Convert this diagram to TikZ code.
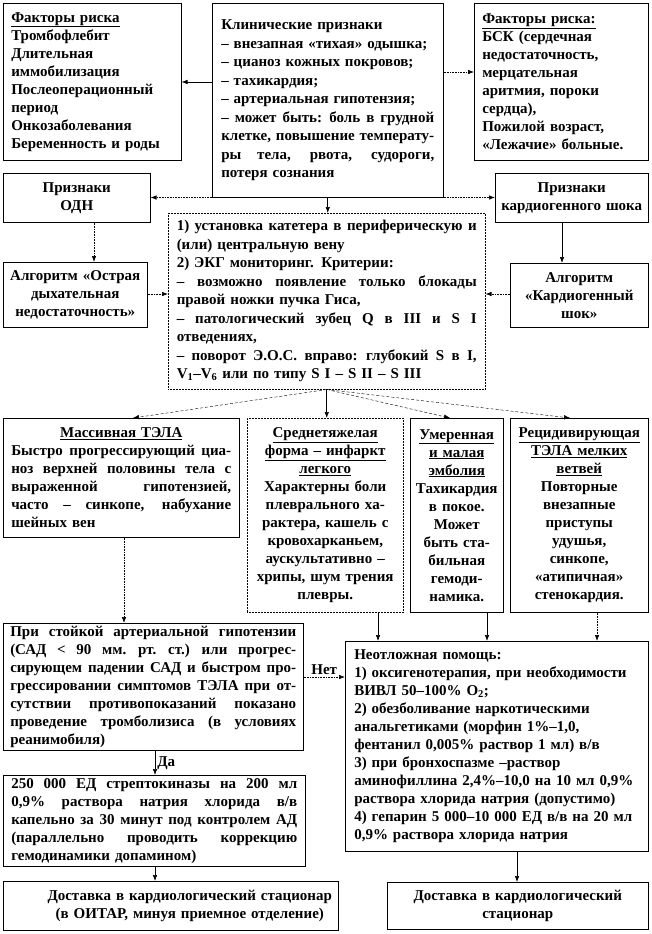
\documentclass[tikz,border=0pt]{standalone}
\usepackage{fontspec}
\setmainfont{Liberation Serif}
\usetikzlibrary{arrows.meta}
\newcommand{\J}[1]{{\spaceskip=0.25em plus 1fil\relax\xspaceskip=0.33em plus 1fil\relax\makebox[\hsize][s]{#1}}}
\newcommand{\C}[1]{\makebox[\hsize][c]{#1}}
\tikzset{
  box/.style={draw, line width=0.5pt, anchor=north west, inner ysep=0pt,
    font=\bfseries\fontsize{15}{18}\selectfont},
  dbox/.style={box, densely dotted},
  arr/.style={-{Latex[length=6pt,width=4.5pt]}, line width=0.6pt},
  dotarr/.style={arr, densely dotted},
  dasharr/.style={arr, densely dashed, line width=0.4pt},
  lbl/.style={font=\bfseries\fontsize{15}{18}\selectfont, inner sep=2pt}
}
\begin{document}
\begin{tikzpicture}[x=1pt,y=-1pt]
\useasboundingbox (0,0) rectangle (652,934);

\node[box, inner xsep=8pt, text width=162pt, minimum width=178pt, minimum height=157pt, align=left] (A) at (3,3)
 {\underline{Факторы риска}\\Тромбофлебит\\Длительная\\иммобилизация\\Послеоперационный\\период\\Онкозаболевания\\Беременность и роды};

\node[box, inner xsep=9pt, text width=213pt, minimum width=231pt, minimum height=194pt, align=left,
  font=\bfseries\fontsize{15}{18.5}\selectfont] (B) at (212,3)
 {Клинические признаки\\
  – внезапная «тихая» одышка;\\
  – цианоз кожных покровов;\\
  – тахикардия;\\
  – артериальная гипотензия;\\
  \J{– может быть: боль в грудной}\\
  \J{клетке, повышение температу-}\\
  \J{ры тела, рвота, судороги,}\\
  потеря сознания};

\node[box, inner xsep=8pt, text width=158pt, minimum width=174pt, minimum height=157pt, align=left] (C) at (474,3)
 {\underline{Факторы риска:}\\БСК (сердечная\\недостаточность,\\мерцательная\\аритмия, пороки\\сердца),\\Пожилой возраст,\\«Лежачие» больные.};

\node[box, inner xsep=4pt, text width=139pt, minimum width=147pt, minimum height=49pt, align=center] (D) at (3,173)
 {Признаки\\ОДН};

\node[box, inner xsep=4pt, text width=145pt, minimum width=153pt, minimum height=49pt, align=center] (E) at (495,173)
 {Признаки\\кардиогенного шока};

\node[box, inner xsep=4pt, text width=136pt, minimum width=144pt, minimum height=65pt, align=center] (F) at (3,262)
 {Алгоритм «Острая\\дыхательная\\недостаточность»};

\node[box, inner xsep=4pt, text width=130pt, minimum width=138pt, minimum height=64pt, align=center] (G) at (510,263)
 {Алгоритм\\«Кардиогенный\\шок»};

\node[dbox, inner xsep=8.5pt, text width=300pt, minimum width=317pt, minimum height=176pt, align=left,
  font=\bfseries\fontsize{15}{18.5}\selectfont] (H) at (168,213)
 {\J{1) установка катетера в периферическую и}\\
  (или) центральную вену\\
  2) ЭКГ мониторинг. Критерии:\\
  \J{– возможно появление только блокады}\\
  правой ножки пучка Гиса,\\
  \J{– патологический зубец Q в III и S I}\\
  отведениях,\\
  \J{– поворот Э.О.С. вправо: глубокий S в I,}\\
  V\textsubscript{1}–V\textsubscript{6} или по типу S I – S II – S III};

\node[box, inner xsep=8pt, text width=220pt, minimum width=236pt, minimum height=119pt, align=left] (I) at (3,418)
 {\C{\underline{Массивная ТЭЛА}}\\
  \J{Быстро прогрессирующий циа-}\\
  \J{ноз верхней половины тела с}\\
  \J{выраженной гипотензией,}\\
  \J{часто – синкопе, набухание}\\
  шейных вен};

\node[dbox, inner xsep=3pt, text width=150pt, minimum width=156pt, minimum height=194pt, align=center] (J) at (247,418)
 {\underline{Среднетяжелая}\\\underline{форма – инфаркт}\\\underline{легкого}\\Характерны боли\\плеврального ха-\\рактера, кашель с\\кровохарканьем,\\аускультативно –\\хрипы, шум трения\\плевры.};

\node[box, inner xsep=2pt, text width=89pt, minimum width=93pt, minimum height=194pt, align=center] (K) at (410,418)
 {\underline{Умеренная}\\\underline{и малая}\\\underline{эмболия}\\Тахикардия\\в покое.\\Может\\быть ста-\\бильная\\гемоди-\\намика.};

\node[box, inner xsep=3pt, text width=132pt, minimum width=138pt, minimum height=194pt, align=center] (L) at (510,418)
 {\underline{Рецидивирующая}\\\underline{ТЭЛА мелких}\\\underline{ветвей}\\Повторные\\внезапные\\приступы\\удушья,\\синкопе,\\«атипичная»\\стенокардия.};

\node[box, inner xsep=7pt, text width=286pt, minimum width=300pt, minimum height=127pt, align=left] (M) at (3,623)
 {\J{При стойкой артериальной гипотензии}\\
  \J{(САД < 90 мм. рт. ст.) или прогрес-}\\
  \J{сирующем падении САД и быстром про-}\\
  \J{грессировании симптомов ТЭЛА при от-}\\
  \J{сутствии противопоказаний показано}\\
  \J{проведение тромболизиса (в условиях}\\
  реанимобиля)};

\node[box, inner xsep=9pt, text width=285pt, minimum width=303pt, minimum height=210pt, align=left] (N) at (345,641)
 {Неотложная помощь:\\
  1) оксигенотерапия, при необходимости\\
  ВИВЛ 50–100\% O\textsubscript{2};\\
  2) обезболивание наркотическими\\
  анальгетиками (морфин 1\%–1,0,\\
  фентанил 0,005\% раствор 1 мл) в/в\\
  3) при бронхоспазме –раствор\\
  аминофиллина 2,4\%–10,0 на 10 мл 0,9\%\\
  раствора хлорида натрия (допустимо)\\
  4) гепарин 5 000–10 000 ЕД в/в на 20 мл\\
  0,9\% раствора хлорида натрия};

\node[box, inner xsep=8pt, text width=286pt, minimum width=302pt, minimum height=91pt, align=left] (O) at (3,775)
 {\J{250 000 ЕД стрептокиназы на 200 мл}\\
  \J{0,9\% раствора натрия хлорида в/в}\\
  \J{капельно за 30 минут под контролем АД}\\
  \J{(параллельно проводить коррекцию}\\
  гемодинамики допамином)};

\node[box, inner xsep=4pt, text width=327pt, minimum width=335pt, minimum height=49pt, align=center] (P) at (3,881)
 {\hspace*{38pt}Доставка в кардиологический стационар\\\hspace*{38pt}(в ОИТАР, минуя приемное отделение)};

\node[box, inner xsep=4pt, text width=253pt, minimum width=261pt, minimum height=47pt, align=center] (Q) at (387,882)
 {Доставка в кардиологический\\стационар};

% connectors
\draw[arr] (B.west |- 0,82) -- (A.east |- 0,82);
\draw[dotarr] (B.east |- 0,72) -- (C.west |- 0,72);
\draw[dotarr] (B.south west) -- (B.south west -| D.east);
\draw[dotarr] (B.south east) -- (B.south east -| E.west);
\draw[arr] (B.south) -- (B.south |- H.north);
\draw[dotarr] (D.south -| 94,0) -- (F.north -| 94,0);
\draw[arr] (E.south -| 562,0) -- (G.north -| 562,0);
\draw[dotarr] (F.east |- 0,294) -- (H.west |- 0,294);
\draw[dotarr] (G.west |- 0,294) -- (H.east |- 0,294);
\draw[dasharr] (H.south) -- (I.north -| 133,0);
\draw[arr] (H.south) -- (H.south |- J.north);
\draw[dasharr] (H.south) -- (K.north -| 450,0);
\draw[dasharr] (H.south) -- (L.north -| 570,0);
\draw[dotarr] (I.south -| 124,0) -- (M.north -| 124,0);
\draw[arr] (J.south -| 378,0) -- (N.north -| 378,0);
\draw[arr] (K.south -| 487,0) -- (N.north -| 487,0);
\draw[dotarr] (L.south -| 597,0) -- (N.north -| 597,0);
\draw[dotarr] (M.east |- 0,677) -- node[lbl, above] (net) {Нет} (N.west |- 0,677);
\draw[arr] (M.south -| 155,0) -- node[lbl, right] (da) {Да} (O.north -| 155,0);
\draw[arr] (O.south -| 155,0) -- (P.north -| 155,0);
\draw[arr] (N.south -| 517,0) -- (Q.north -| 517,0);
\end{tikzpicture}
\end{document}
